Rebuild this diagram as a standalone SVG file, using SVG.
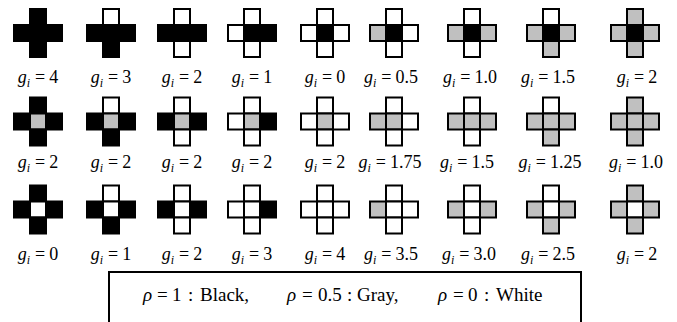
<svg xmlns="http://www.w3.org/2000/svg" width="677" height="322" viewBox="0 0 677 322">
<style>
rect{stroke:#000;stroke-width:2}
.b{fill:#000}.g{fill:#c0c0c0}.w{fill:#fff}
text{font-family:"Liberation Serif","Times New Roman",serif;fill:#000}
.l{font-size:18px;text-anchor:middle}
.v{font-style:italic}
.s{font-style:italic;font-size:12px}
.k{font-size:19px}
</style>
<rect x="0" y="0" width="677" height="322" style="fill:#fff;stroke:none"/>
<g id="crosses">
<g id="r1c1" transform="translate(38,33)"><rect class="b" x="-8" y="-24" width="16" height="16"/><rect class="b" x="-24" y="-8" width="16" height="16"/><rect class="b" x="-8" y="-8" width="16" height="16"/><rect class="b" x="8" y="-8" width="16" height="16"/><rect class="b" x="-8" y="8" width="16" height="16"/></g>
<g id="r1c2" transform="translate(111,33)"><rect class="w" x="-8" y="-24" width="16" height="16"/><rect class="b" x="-24" y="-8" width="16" height="16"/><rect class="b" x="-8" y="-8" width="16" height="16"/><rect class="b" x="8" y="-8" width="16" height="16"/><rect class="b" x="-8" y="8" width="16" height="16"/></g>
<g id="r1c3" transform="translate(182,33)"><rect class="w" x="-8" y="-24" width="16" height="16"/><rect class="b" x="-24" y="-8" width="16" height="16"/><rect class="b" x="-8" y="-8" width="16" height="16"/><rect class="b" x="8" y="-8" width="16" height="16"/><rect class="w" x="-8" y="8" width="16" height="16"/></g>
<g id="r1c4" transform="translate(252,33)"><rect class="w" x="-8" y="-24" width="16" height="16"/><rect class="w" x="-24" y="-8" width="16" height="16"/><rect class="b" x="-8" y="-8" width="16" height="16"/><rect class="b" x="8" y="-8" width="16" height="16"/><rect class="w" x="-8" y="8" width="16" height="16"/></g>
<g id="r1c5" transform="translate(325,33)"><rect class="w" x="-8" y="-24" width="16" height="16"/><rect class="w" x="-24" y="-8" width="16" height="16"/><rect class="b" x="-8" y="-8" width="16" height="16"/><rect class="w" x="8" y="-8" width="16" height="16"/><rect class="w" x="-8" y="8" width="16" height="16"/></g>
<g id="r1c6" transform="translate(394,33)"><rect class="w" x="-8" y="-24" width="16" height="16"/><rect class="g" x="-24" y="-8" width="16" height="16"/><rect class="b" x="-8" y="-8" width="16" height="16"/><rect class="w" x="8" y="-8" width="16" height="16"/><rect class="w" x="-8" y="8" width="16" height="16"/></g>
<g id="r1c7" transform="translate(472,33)"><rect class="w" x="-8" y="-24" width="16" height="16"/><rect class="g" x="-24" y="-8" width="16" height="16"/><rect class="b" x="-8" y="-8" width="16" height="16"/><rect class="g" x="8" y="-8" width="16" height="16"/><rect class="w" x="-8" y="8" width="16" height="16"/></g>
<g id="r1c8" transform="translate(551,33)"><rect class="w" x="-8" y="-24" width="16" height="16"/><rect class="g" x="-24" y="-8" width="16" height="16"/><rect class="b" x="-8" y="-8" width="16" height="16"/><rect class="g" x="8" y="-8" width="16" height="16"/><rect class="g" x="-8" y="8" width="16" height="16"/></g>
<g id="r1c9" transform="translate(635,33)"><rect class="g" x="-8" y="-24" width="16" height="16"/><rect class="g" x="-24" y="-8" width="16" height="16"/><rect class="b" x="-8" y="-8" width="16" height="16"/><rect class="g" x="8" y="-8" width="16" height="16"/><rect class="g" x="-8" y="8" width="16" height="16"/></g>
<g id="r2c1" transform="translate(38,121.5)"><rect class="b" x="-8" y="-24" width="16" height="16"/><rect class="b" x="-24" y="-8" width="16" height="16"/><rect class="g" x="-8" y="-8" width="16" height="16"/><rect class="b" x="8" y="-8" width="16" height="16"/><rect class="b" x="-8" y="8" width="16" height="16"/></g>
<g id="r2c2" transform="translate(111,121.5)"><rect class="w" x="-8" y="-24" width="16" height="16"/><rect class="b" x="-24" y="-8" width="16" height="16"/><rect class="g" x="-8" y="-8" width="16" height="16"/><rect class="b" x="8" y="-8" width="16" height="16"/><rect class="b" x="-8" y="8" width="16" height="16"/></g>
<g id="r2c3" transform="translate(182,121.5)"><rect class="w" x="-8" y="-24" width="16" height="16"/><rect class="b" x="-24" y="-8" width="16" height="16"/><rect class="g" x="-8" y="-8" width="16" height="16"/><rect class="b" x="8" y="-8" width="16" height="16"/><rect class="w" x="-8" y="8" width="16" height="16"/></g>
<g id="r2c4" transform="translate(252,121.5)"><rect class="w" x="-8" y="-24" width="16" height="16"/><rect class="w" x="-24" y="-8" width="16" height="16"/><rect class="g" x="-8" y="-8" width="16" height="16"/><rect class="b" x="8" y="-8" width="16" height="16"/><rect class="w" x="-8" y="8" width="16" height="16"/></g>
<g id="r2c5" transform="translate(325,121.5)"><rect class="w" x="-8" y="-24" width="16" height="16"/><rect class="w" x="-24" y="-8" width="16" height="16"/><rect class="g" x="-8" y="-8" width="16" height="16"/><rect class="w" x="8" y="-8" width="16" height="16"/><rect class="w" x="-8" y="8" width="16" height="16"/></g>
<g id="r2c6" transform="translate(394,121.5)"><rect class="w" x="-8" y="-24" width="16" height="16"/><rect class="g" x="-24" y="-8" width="16" height="16"/><rect class="g" x="-8" y="-8" width="16" height="16"/><rect class="w" x="8" y="-8" width="16" height="16"/><rect class="w" x="-8" y="8" width="16" height="16"/></g>
<g id="r2c7" transform="translate(472,121.5)"><rect class="w" x="-8" y="-24" width="16" height="16"/><rect class="g" x="-24" y="-8" width="16" height="16"/><rect class="g" x="-8" y="-8" width="16" height="16"/><rect class="g" x="8" y="-8" width="16" height="16"/><rect class="w" x="-8" y="8" width="16" height="16"/></g>
<g id="r2c8" transform="translate(551,121.5)"><rect class="w" x="-8" y="-24" width="16" height="16"/><rect class="g" x="-24" y="-8" width="16" height="16"/><rect class="g" x="-8" y="-8" width="16" height="16"/><rect class="g" x="8" y="-8" width="16" height="16"/><rect class="g" x="-8" y="8" width="16" height="16"/></g>
<g id="r2c9" transform="translate(635,121.5)"><rect class="g" x="-8" y="-24" width="16" height="16"/><rect class="g" x="-24" y="-8" width="16" height="16"/><rect class="g" x="-8" y="-8" width="16" height="16"/><rect class="g" x="8" y="-8" width="16" height="16"/><rect class="g" x="-8" y="8" width="16" height="16"/></g>
<g id="r3c1" transform="translate(38,209.5)"><rect class="b" x="-8" y="-24" width="16" height="16"/><rect class="b" x="-24" y="-8" width="16" height="16"/><rect class="w" x="-8" y="-8" width="16" height="16"/><rect class="b" x="8" y="-8" width="16" height="16"/><rect class="b" x="-8" y="8" width="16" height="16"/></g>
<g id="r3c2" transform="translate(111,209.5)"><rect class="w" x="-8" y="-24" width="16" height="16"/><rect class="b" x="-24" y="-8" width="16" height="16"/><rect class="w" x="-8" y="-8" width="16" height="16"/><rect class="b" x="8" y="-8" width="16" height="16"/><rect class="b" x="-8" y="8" width="16" height="16"/></g>
<g id="r3c3" transform="translate(182,209.5)"><rect class="w" x="-8" y="-24" width="16" height="16"/><rect class="b" x="-24" y="-8" width="16" height="16"/><rect class="w" x="-8" y="-8" width="16" height="16"/><rect class="b" x="8" y="-8" width="16" height="16"/><rect class="w" x="-8" y="8" width="16" height="16"/></g>
<g id="r3c4" transform="translate(252,209.5)"><rect class="w" x="-8" y="-24" width="16" height="16"/><rect class="w" x="-24" y="-8" width="16" height="16"/><rect class="w" x="-8" y="-8" width="16" height="16"/><rect class="b" x="8" y="-8" width="16" height="16"/><rect class="w" x="-8" y="8" width="16" height="16"/></g>
<g id="r3c5" transform="translate(325,209.5)"><rect class="w" x="-8" y="-24" width="16" height="16"/><rect class="w" x="-24" y="-8" width="16" height="16"/><rect class="w" x="-8" y="-8" width="16" height="16"/><rect class="w" x="8" y="-8" width="16" height="16"/><rect class="w" x="-8" y="8" width="16" height="16"/></g>
<g id="r3c6" transform="translate(394,209.5)"><rect class="w" x="-8" y="-24" width="16" height="16"/><rect class="g" x="-24" y="-8" width="16" height="16"/><rect class="w" x="-8" y="-8" width="16" height="16"/><rect class="w" x="8" y="-8" width="16" height="16"/><rect class="w" x="-8" y="8" width="16" height="16"/></g>
<g id="r3c7" transform="translate(472,209.5)"><rect class="w" x="-8" y="-24" width="16" height="16"/><rect class="g" x="-24" y="-8" width="16" height="16"/><rect class="w" x="-8" y="-8" width="16" height="16"/><rect class="g" x="8" y="-8" width="16" height="16"/><rect class="w" x="-8" y="8" width="16" height="16"/></g>
<g id="r3c8" transform="translate(551,209.5)"><rect class="w" x="-8" y="-24" width="16" height="16"/><rect class="g" x="-24" y="-8" width="16" height="16"/><rect class="w" x="-8" y="-8" width="16" height="16"/><rect class="g" x="8" y="-8" width="16" height="16"/><rect class="g" x="-8" y="8" width="16" height="16"/></g>
<g id="r3c9" transform="translate(635,209.5)"><rect class="g" x="-8" y="-24" width="16" height="16"/><rect class="g" x="-24" y="-8" width="16" height="16"/><rect class="w" x="-8" y="-8" width="16" height="16"/><rect class="g" x="8" y="-8" width="16" height="16"/><rect class="g" x="-8" y="8" width="16" height="16"/></g>
</g>
<g id="labels">
<text class="l" x="38" y="83"><tspan class="v">g</tspan><tspan class="s" dy="4">i</tspan><tspan dy="-4" dx="5">=</tspan><tspan dx="4">4</tspan></text>
<text class="l" x="111" y="83"><tspan class="v">g</tspan><tspan class="s" dy="4">i</tspan><tspan dy="-4" dx="5">=</tspan><tspan dx="4">3</tspan></text>
<text class="l" x="182" y="83"><tspan class="v">g</tspan><tspan class="s" dy="4">i</tspan><tspan dy="-4" dx="5">=</tspan><tspan dx="4">2</tspan></text>
<text class="l" x="252" y="83"><tspan class="v">g</tspan><tspan class="s" dy="4">i</tspan><tspan dy="-4" dx="5">=</tspan><tspan dx="4">1</tspan></text>
<text class="l" x="325" y="83"><tspan class="v">g</tspan><tspan class="s" dy="4">i</tspan><tspan dy="-4" dx="5">=</tspan><tspan dx="4">0</tspan></text>
<text class="l" x="391" y="83"><tspan class="v">g</tspan><tspan class="s" dy="4">i</tspan><tspan dy="-4" dx="5">=</tspan><tspan dx="4">0.5</tspan></text>
<text class="l" x="470" y="83"><tspan class="v">g</tspan><tspan class="s" dy="4">i</tspan><tspan dy="-4" dx="5">=</tspan><tspan dx="4">1.0</tspan></text>
<text class="l" x="548" y="83"><tspan class="v">g</tspan><tspan class="s" dy="4">i</tspan><tspan dy="-4" dx="5">=</tspan><tspan dx="4">1.5</tspan></text>
<text class="l" x="637" y="83"><tspan class="v">g</tspan><tspan class="s" dy="4">i</tspan><tspan dy="-4" dx="5">=</tspan><tspan dx="4">2</tspan></text>
<text class="l" x="38" y="168"><tspan class="v">g</tspan><tspan class="s" dy="4">i</tspan><tspan dy="-4" dx="5">=</tspan><tspan dx="4">2</tspan></text>
<text class="l" x="111" y="168"><tspan class="v">g</tspan><tspan class="s" dy="4">i</tspan><tspan dy="-4" dx="5">=</tspan><tspan dx="4">2</tspan></text>
<text class="l" x="182" y="168"><tspan class="v">g</tspan><tspan class="s" dy="4">i</tspan><tspan dy="-4" dx="5">=</tspan><tspan dx="4">2</tspan></text>
<text class="l" x="252" y="168"><tspan class="v">g</tspan><tspan class="s" dy="4">i</tspan><tspan dy="-4" dx="5">=</tspan><tspan dx="4">2</tspan></text>
<text class="l" x="325" y="168"><tspan class="v">g</tspan><tspan class="s" dy="4">i</tspan><tspan dy="-4" dx="5">=</tspan><tspan dx="4">2</tspan></text>
<text class="l" x="390" y="168"><tspan class="v">g</tspan><tspan class="s" dy="4">i</tspan><tspan dy="-4" dx="5">=</tspan><tspan dx="4">1.75</tspan></text>
<text class="l" x="467" y="168"><tspan class="v">g</tspan><tspan class="s" dy="4">i</tspan><tspan dy="-4" dx="5">=</tspan><tspan dx="4">1.5</tspan></text>
<text class="l" x="550" y="168"><tspan class="v">g</tspan><tspan class="s" dy="4">i</tspan><tspan dy="-4" dx="5">=</tspan><tspan dx="4">1.25</tspan></text>
<text class="l" x="636" y="168"><tspan class="v">g</tspan><tspan class="s" dy="4">i</tspan><tspan dy="-4" dx="5">=</tspan><tspan dx="4">1.0</tspan></text>
<text class="l" x="38" y="260"><tspan class="v">g</tspan><tspan class="s" dy="4">i</tspan><tspan dy="-4" dx="5">=</tspan><tspan dx="4">0</tspan></text>
<text class="l" x="111" y="260"><tspan class="v">g</tspan><tspan class="s" dy="4">i</tspan><tspan dy="-4" dx="5">=</tspan><tspan dx="4">1</tspan></text>
<text class="l" x="182" y="260"><tspan class="v">g</tspan><tspan class="s" dy="4">i</tspan><tspan dy="-4" dx="5">=</tspan><tspan dx="4">2</tspan></text>
<text class="l" x="252" y="260"><tspan class="v">g</tspan><tspan class="s" dy="4">i</tspan><tspan dy="-4" dx="5">=</tspan><tspan dx="4">3</tspan></text>
<text class="l" x="325" y="260"><tspan class="v">g</tspan><tspan class="s" dy="4">i</tspan><tspan dy="-4" dx="5">=</tspan><tspan dx="4">4</tspan></text>
<text class="l" x="391" y="260"><tspan class="v">g</tspan><tspan class="s" dy="4">i</tspan><tspan dy="-4" dx="5">=</tspan><tspan dx="4">3.5</tspan></text>
<text class="l" x="469" y="260"><tspan class="v">g</tspan><tspan class="s" dy="4">i</tspan><tspan dy="-4" dx="5">=</tspan><tspan dx="4">3.0</tspan></text>
<text class="l" x="548" y="260"><tspan class="v">g</tspan><tspan class="s" dy="4">i</tspan><tspan dy="-4" dx="5">=</tspan><tspan dx="4">2.5</tspan></text>
<text class="l" x="637" y="260"><tspan class="v">g</tspan><tspan class="s" dy="4">i</tspan><tspan dy="-4" dx="5">=</tspan><tspan dx="4">2</tspan></text>
</g>
<g id="legend">
<rect x="109" y="272" width="472" height="70" style="fill:none"/>
<text class="k" y="301"><tspan x="143" class="v">ρ</tspan><tspan x="157">=</tspan><tspan x="172">1</tspan><tspan x="188">:</tspan><tspan x="200">Black,</tspan><tspan x="287" class="v">ρ</tspan><tspan x="302">=</tspan><tspan x="318">0.5</tspan><tspan x="347">:</tspan><tspan x="357">Gray,</tspan><tspan x="438" class="v">ρ</tspan><tspan x="453">=</tspan><tspan x="468">0</tspan><tspan x="484">:</tspan><tspan x="496">White</tspan></text>
</g>
</svg>
